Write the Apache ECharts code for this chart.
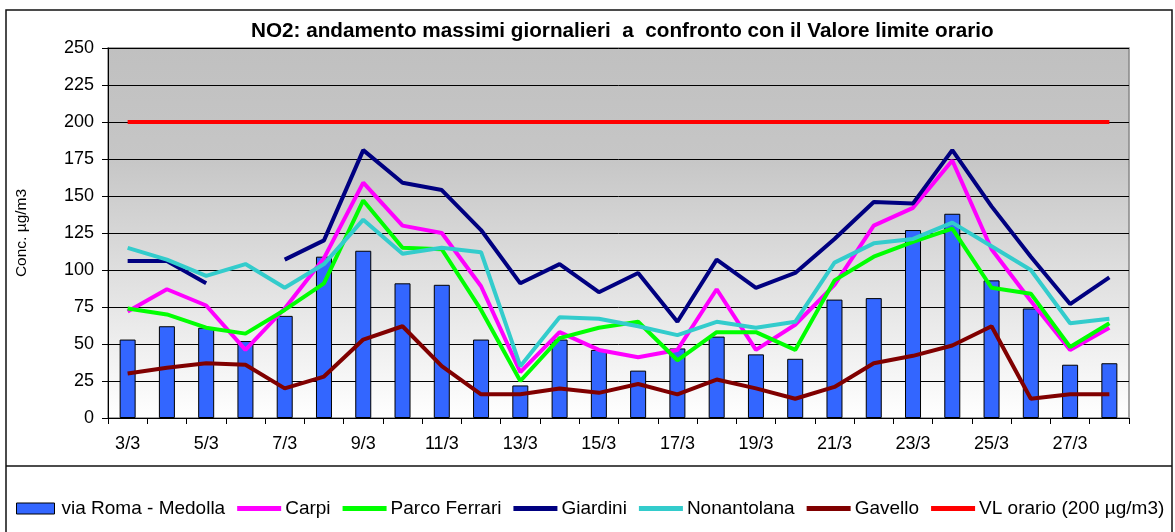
<!DOCTYPE html>
<html>
<head>
<meta charset="utf-8">
<script src="https://cdn.jsdelivr.net/npm/echarts@6/dist/echarts.min.js"></script>
<style>
  html, body { margin: 0; padding: 0; background: #fff; }
  #chart { width: 1175px; height: 532px; }
</style>
</head>
<body>
<div id="chart"></div>
<script>
// giorni di marzo
const giorni = ['3/3','4/3','5/3','6/3','7/3','8/3','9/3','10/3','11/3','12/3','13/3','14/3','15/3',
  '16/3','17/3','18/3','19/3','20/3','21/3','22/3','23/3','24/3','25/3','26/3','27/3','28/3'];
const yTicks = [0, 25, 50, 75, 100, 125, 150, 175, 200, 225, 250];

const medolla = [53, 62, 61, 52, 69, 109, 113, 91, 90, 53, 22, 53, 46, 32, 47, 55, 43, 40, 80, 81, 127, 138, 93, 74, 36, 37];
const carpi = [72, 87, 76, 46, 74, 108, 159, 130, 125, 89, 31, 58, 46, 41, 46, 87, 46, 63, 90, 130, 142, 174, 114, 79, 46, 61];
const parcoFerrari = [74, 70, 61, 57, 73, 91, 147, 115, 114, 73, 25, 54, 61, 65, 39, 58, 58, 46, 93, 109, 119, 128, 88, 84, 48, 64];
const giardini = [106, 106, 91, '-', 107, 120, 181, 159, 154, 127, 91, 104, 85, 98, 65, 107, 88, 98, 121, 146, 145, 181, 143, 109, 77, 95];
const nonantolana = [115, 107, 96, 104, 88, 104, 134, 111, 115, 112, 35, 68, 67, 62, 56, 65, 61, 65, 105, 118, 121, 132, 116, 100, 64, 67];
const gavello = [30, 34, 37, 36, 20, 28, 53, 62, 35, 16, 16, 20, 17, 23, 16, 26, 20, 13, 21, 37, 42, 49, 62, 13, 16, 16];
const vlOrario = giorni.map(() => 200);

const chart = echarts.init(document.getElementById('chart'));

const lineIcon = 'path://M0,0H44V5H0Z';
const barIcon = 'path://M0,0H38V11H0Z';
const txt = { fontFamily: 'Liberation Sans, Arial, sans-serif', color: '#000' };

function linea(name, data, color) {
  return {
    name: name,
    type: 'line',
    data: data,
    showSymbol: false,
    symbol: 'none',
    itemStyle: { color: color },
    lineStyle: { color: color, width: 4 },
    emphasis: { disabled: true },
    z: 3
  };
}

const option = {
  animation: false,
  title: {
    text: 'NO2: andamento massimi giornalieri  a  confronto con il Valore limite orario',
    left: 246,
    top: 16,
    textStyle: { fontFamily: 'Liberation Sans, Arial', fontWeight: 'bold', fontSize: 20.7, color: '#000' }
  },
  graphic: [
    { type: 'rect', shape: { x: 6, y: 10, width: 1166, height: 540 }, style: { fill: 'none', stroke: '#111', lineWidth: 1.5 }, z: 10 },
    { type: 'line', shape: { x1: 6, y1: 466, x2: 1172, y2: 466 }, style: { stroke: '#111', lineWidth: 1.5 }, z: 10 }
  ],
  legend: {
    left: 11,
    top: 494,
    itemWidth: 44,
    itemHeight: 11,
    itemGap: 12,
    textStyle: Object.assign({ fontSize: 19, padding: [0, 0, 0, -1] }, txt),
    data: [
      { name: 'via Roma - Medolla', icon: barIcon, itemStyle: { borderColor: '#000', borderWidth: 1 } },
      { name: 'Carpi', icon: lineIcon },
      { name: 'Parco Ferrari', icon: lineIcon },
      { name: 'Giardini', icon: lineIcon },
      { name: 'Nonantolana', icon: lineIcon },
      { name: 'Gavello', icon: lineIcon },
      { name: 'VL orario (200 µg/m3)', icon: lineIcon }
    ]
  },
  grid: {
    left: 108,
    right: 46,
    top: 48,
    bottom: 114,
    show: true,
    borderColor: '#888',
    borderWidth: 1.5,
    backgroundColor: new echarts.graphic.LinearGradient(0, 0, 0, 1, [
      { offset: 0, color: '#c0c0c0' },
      { offset: 0.3, color: '#c6c6c6' },
      { offset: 0.6, color: '#dedede' },
      { offset: 1, color: '#ffffff' }
    ])
  },
  xAxis: {
    type: 'category',
    data: giorni,
    boundaryGap: true,
    axisLine: { lineStyle: { color: '#000', width: 1 } },
    axisTick: { show: true, interval: 0, length: 6, lineStyle: { color: '#000' } },
    axisLabel: Object.assign({ interval: 1, fontSize: 18, margin: 17 }, txt),
    splitLine: { show: false }
  },
  yAxis: {
    type: 'value',
    min: yTicks[0],
    max: yTicks[yTicks.length - 1],
    interval: 25,
    name: 'Conc. µg/m3',
    nameLocation: 'middle',
    nameRotate: 90,
    nameGap: 78,
    nameTextStyle: Object.assign({ fontSize: 15.5 }, txt),
    axisLine: { show: true, lineStyle: { color: '#000', width: 1 } },
    axisTick: { show: true, length: 6, lineStyle: { color: '#000' } },
    axisLabel: Object.assign({ fontSize: 18, margin: 14 }, txt),
    splitLine: { show: true, lineStyle: { color: '#000', width: 1 } }
  },
  series: [
    {
      name: 'via Roma - Medolla',
      type: 'bar',
      data: medolla,
      barWidth: 16,
      itemStyle: { color: '#3366ff', borderColor: '#000', borderWidth: 1 },
      emphasis: { disabled: true },
      z: 2
    },
    linea('Carpi', carpi, '#ff00ff'),
    linea('Parco Ferrari', parcoFerrari, '#00ff00'),
    linea('Giardini', giardini, '#000080'),
    linea('Nonantolana', nonantolana, '#33cccc'),
    linea('Gavello', gavello, '#800000'),
    linea('VL orario (200 µg/m3)', vlOrario, '#ff0000')
  ]
};

chart.setOption(option);
</script>
</body>
</html>
